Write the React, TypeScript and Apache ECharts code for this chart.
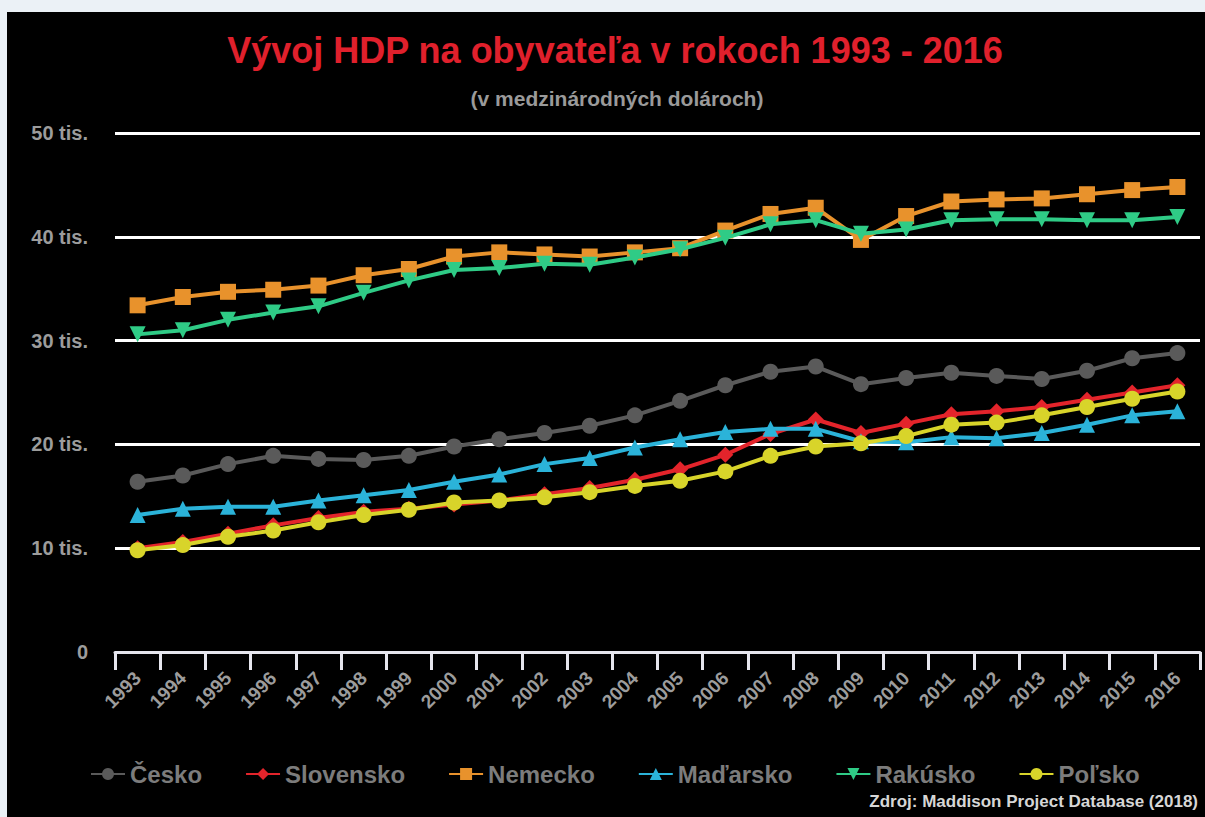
import React, { useEffect, useRef } from "react";
import * as echarts from "echarts";

const years = [
  "1993", "1994", "1995", "1996", "1997", "1998", "1999", "2000", "2001", "2002", "2003", "2004",
  "2005", "2006", "2007", "2008", "2009", "2010", "2011", "2012", "2013", "2014", "2015", "2016",
];

const cesko = [16.4, 17.0, 18.1, 18.9, 18.6, 18.5, 18.9, 19.8, 20.5, 21.1, 21.8, 22.8, 24.2, 25.7, 27.0, 27.5, 25.8, 26.4, 26.9, 26.6, 26.3, 27.1, 28.3, 28.8];
const slovensko = [10.0, 10.6, 11.4, 12.2, 12.9, 13.5, 13.8, 14.2, 14.6, 15.2, 15.8, 16.6, 17.6, 19.0, 21.0, 22.4, 21.1, 22.0, 22.9, 23.2, 23.6, 24.3, 25.0, 25.7];
const nemecko = [33.4, 34.2, 34.7, 34.9, 35.3, 36.3, 36.9, 38.1, 38.5, 38.3, 38.1, 38.5, 38.9, 40.6, 42.2, 42.8, 39.7, 42.0, 43.4, 43.6, 43.7, 44.1, 44.5, 44.8];
const madarsko = [13.2, 13.8, 14.0, 14.0, 14.6, 15.1, 15.6, 16.4, 17.1, 18.1, 18.7, 19.7, 20.5, 21.2, 21.5, 21.5, 20.3, 20.2, 20.7, 20.6, 21.1, 21.9, 22.8, 23.2];
const rakusko = [30.6, 31.0, 32.0, 32.7, 33.3, 34.6, 35.8, 36.8, 37.0, 37.4, 37.3, 38.0, 38.8, 39.9, 41.2, 41.6, 40.3, 40.7, 41.6, 41.7, 41.7, 41.6, 41.6, 41.9];
const polsko = [9.8, 10.3, 11.1, 11.7, 12.5, 13.2, 13.7, 14.4, 14.6, 14.9, 15.4, 16.0, 16.5, 17.4, 18.9, 19.8, 20.1, 20.8, 21.9, 22.1, 22.8, 23.6, 24.4, 25.1];

const yTicks = [0, 10, 20, 30, 40, 50];

const seriesNames = ["Česko", "Slovensko", "Nemecko", "Maďarsko", "Rakúsko", "Poľsko"];
const seriesData = [cesko, slovensko, nemecko, madarsko, rakusko, polsko];
const seriesColors = ["#5a5a5a", "#e3242b", "#e8922c", "#2bb3d9", "#2fcb86", "#d8d42a"];
const seriesSymbols = ["circle", "diamond", "rect", "triangle", "triangle", "circle"];
const seriesRotate = [0, 0, 0, 0, 180, 0];

export default function App() {
  const ref = useRef<HTMLDivElement>(null);

  useEffect(() => {
    if (!ref.current) return;
    const chart = echarts.init(ref.current, undefined, { renderer: "svg" });
    const font = "'Liberation Sans', Arial, sans-serif";
    chart.setOption({
      animation: false,
      backgroundColor: "#000000",
      textStyle: { fontFamily: font },
      title: [
        {
          text: "Vývoj HDP na obyvateľa v rokoch 1993 - 2016",
          left: 603,
          top: 15,
          textAlign: "center",
          textStyle: { color: "#e0202c", fontSize: 36, fontWeight: "bold", fontFamily: font },
        },
        {
          text: "(v medzinárodných dolároch)",
          left: 605,
          top: 71,
          textAlign: "center",
          textStyle: { color: "#9a9a9a", fontSize: 21, fontWeight: "bold", fontFamily: font },
        },
        {
          text: "Zdroj: Maddison Project Database (2018)",
          right: 2,
          top: 776,
          textStyle: { color: "#d6d6d6", fontSize: 17, fontWeight: "bold", fontFamily: font },
        },
      ],
      legend: {
        data: seriesNames,
        left: 78,
        top: 745,
        itemWidth: 34,
        itemHeight: 15,
        itemGap: 43,
        textStyle: { color: "#7c7c7c", fontSize: 24, fontWeight: "bold", fontFamily: font },
      },
      grid: { left: 108, right: 5, top: 121, bottom: 165 },
      xAxis: {
        type: "category",
        data: years,
        boundaryGap: true,
        axisLine: { show: true, lineStyle: { color: "#e6e6ee", width: 3 } },
        axisTick: { show: true, length: 18, lineStyle: { color: "#e6e6ee", width: 3 } },
        axisLabel: {
          rotate: 45,
          margin: 23,
          interval: 0,
          color: "#9c9c9c",
          fontSize: 19,
          fontWeight: "bold",
          fontFamily: font,
        },
        splitLine: { show: false },
      },
      yAxis: {
        type: "value",
        min: yTicks[0],
        max: yTicks[yTicks.length - 1],
        interval: 10,
        axisLine: { show: false },
        axisTick: { show: false },
        axisLabel: {
          margin: 27,
          color: "#9c9c9c",
          fontSize: 20,
          fontWeight: "bold",
          fontFamily: font,
          formatter: (v: number) => (v === 0 ? "0" : `${v} tis.`),
        },
        splitLine: { show: true, lineStyle: { color: "#ffffff", width: 3 } },
      },
      series: seriesNames.map((name, i) => ({
        name,
        type: "line",
        data: seriesData[i],
        symbol: seriesSymbols[i],
        symbolRotate: seriesRotate[i],
        symbolSize: 16,
        showSymbol: true,
        lineStyle: { color: seriesColors[i], width: 4 },
        itemStyle: { color: seriesColors[i] },
        z: 2 + i,
      })),
    });
    return () => chart.dispose();
  }, []);

  return (
    <div
      style={{
        position: "fixed",
        left: 0,
        top: 0,
        width: 1205,
        height: 817,
        background: "#ebf1f6",
      }}
    >
      <div
        ref={ref}
        style={{ position: "absolute", left: 7, top: 12, width: 1198, height: 805 }}
      />
    </div>
  );
}
